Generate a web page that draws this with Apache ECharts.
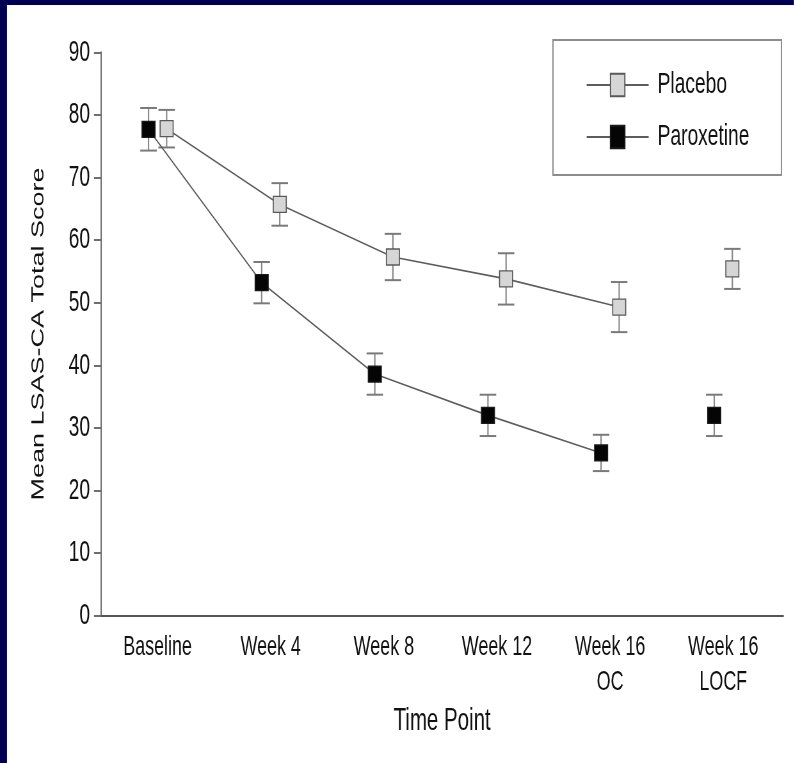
<!DOCTYPE html>
<html><head><meta charset="utf-8">
<script src="https://cdn.jsdelivr.net/npm/echarts@6/dist/echarts.min.js"></script>
<style>
html,body{margin:0;padding:0;background:#fff;overflow:hidden}
#wrap{position:relative;width:794px;height:763px;overflow:hidden;background:#fff}
#chart{position:absolute;left:0;top:0;height:763px;transform-origin:0 0}
</style></head><body>
<div id="wrap"><div id="chart"></div></div>
<script>
// ---- data ----
const categories = ['Baseline', 'Week 4', 'Week 8', 'Week 12', 'Week 16\nOC', 'Week 16\nLOCF'];
const placeboMean = [77.8, 65.7, 57.3, 53.8, 49.3, 55.4];
const placeboErr  = [3.0, 3.4, 3.7, 4.1, 4.0, 3.2];
const paroxetineMean = [77.7, 53.2, 38.6, 32.0, 26.0, 32.0];
const paroxetineErr  = [3.4, 3.3, 3.3, 3.3, 2.9, 3.3];
const yTicks = [0, 10, 20, 30, 40, 50, 60, 70, 80, 90];
const seriesNames = ['Placebo', 'Paroxetine'];

// ---- rendering ----
const S = 0.64;               // horizontal condensation of the original figure
const W = 794 / S;
const el = document.getElementById('chart');
el.style.width = W + 'px';
el.style.transform = 'scaleX(' + S + ')';
const FONT = '"Liberation Sans", Arial, sans-serif';
const OFF = 0.08;
const CAP = 16.5 / S;
const SYM = [13 / S, 16];
const LAST = categories.length - 1;

function errSeries(name, mean, err, off) {
  return {
    type: 'custom', name: name, z: 2, silent: true, animation: false,
    data: mean.map((m, i) => [i + off, m - err[i], m + err[i]]),
    renderItem: function (params, api) {
      const x = api.value(0);
      const lo = api.coord([x, api.value(1)]);
      const hi = api.coord([x, api.value(2)]);
      const hw = CAP / 2;
      return { type: 'group', children: [
        { type: 'line', shape: { x1: lo[0], y1: lo[1], x2: hi[0], y2: hi[1] }, style: { stroke: '#8a8a8a', lineWidth: 2.2 } },
        { type: 'line', shape: { x1: lo[0] - hw, y1: lo[1], x2: lo[0] + hw, y2: lo[1] }, style: { stroke: '#7a7a7a', lineWidth: 2 } },
        { type: 'line', shape: { x1: hi[0] - hw, y1: hi[1], x2: hi[0] + hw, y2: hi[1] }, style: { stroke: '#7a7a7a', lineWidth: 2 } }
      ]};
    }
  };
}

const styles = {
  Placebo:    { fill: '#d6d6d6', border: '#5a5a5a' },
  Paroxetine: { fill: '#050505', border: '#1a1a1a' }
};

function lineSeries(name, mean, off) {
  return {
    type: 'line', name: name, z: 3, animation: false,
    symbol: 'rect', symbolSize: SYM, showSymbol: true,
    data: mean.slice(0, LAST).map((m, i) => [i + off, m]),
    lineStyle: { color: '#5c5c5c', width: 1.6 },
    itemStyle: { color: styles[name].fill, borderColor: styles[name].border, borderWidth: 1.5 },
    emphasis: { disabled: true }
  };
}
function locfSeries(name, mean, off) {
  return {
    type: 'scatter', name: name + ' LOCF', z: 3, animation: false,
    symbol: 'rect', symbolSize: SYM,
    data: [[LAST + off, mean[LAST]]],
    itemStyle: { color: styles[name].fill, borderColor: styles[name].border, borderWidth: 1.5, opacity: 1 },
    emphasis: { disabled: true }
  };
}

const chart = echarts.init(el, null, { renderer: 'canvas' });
chart.setOption({
  backgroundColor: '#ffffff',
  animation: false,
  textStyle: { fontFamily: FONT },
  graphic: [
    { type: 'rect', left: 0, top: 0, z: 100, shape: { width: 7 / S, height: 763 }, style: { fill: '#000050' } },
    { type: 'rect', left: 0, top: 0, z: 100, shape: { width: W, height: 5 }, style: { fill: '#000050' } }
  ],
  grid: { left: 101 / S, right: W - 783 / S, top: 52.3, bottom: 763 - 615.7, containLabel: false },
  legend: {
    data: seriesNames, orient: 'vertical', left: 553 / S, top: 40,
    padding: [30, 32 / S, 23, 33 / S], itemGap: 22, itemWidth: 62 / S, itemHeight: 28,
    borderColor: '#8c8c8c', borderWidth: 2, selectedMode: false,
    textStyle: { fontSize: 30, fontFamily: FONT, color: '#111', lineHeight: 30, padding: [0, 0, 0, 9] }
  },
  xAxis: {
    type: 'value', min: -0.5, max: 5.53,
    name: 'Time Point', nameLocation: 'middle', nameGap: 89,
    nameTextStyle: { fontSize: 32, fontFamily: FONT, color: '#111' },
    axisLine: { onZero: false, lineStyle: { color: '#555', width: 2 } },
    axisTick: { show: false }, splitLine: { show: false },
    axisLabel: {
      customValues: categories.map((c, i) => i),
      formatter: v => categories[Math.round(v)],
      fontSize: 28, lineHeight: 35, margin: 14, color: '#111', fontFamily: FONT
    }
  },
  yAxis: {
    type: 'value', min: yTicks[0], max: yTicks[yTicks.length - 1], interval: yTicks[1] - yTicks[0],
    name: 'Mean LSAS-CA Total Score', nameLocation: 'middle', nameGap: 84,
    nameTextStyle: { fontSize: 27, fontFamily: FONT, color: '#111' },
    axisLine: { show: true, onZero: false, lineStyle: { color: '#6e6e6e', width: 2 } },
    axisTick: { show: true, length: 7 / S, lineStyle: { color: '#6e6e6e', width: 2 } },
    splitLine: { show: false },
    axisLabel: { fontSize: 30, margin: 11 / S, color: '#111', fontFamily: FONT }
  },
  series: [
    errSeries('Placebo SE', placeboMean, placeboErr, OFF),
    errSeries('Paroxetine SE', paroxetineMean, paroxetineErr, -OFF),
    lineSeries('Placebo', placeboMean, OFF),
    lineSeries('Paroxetine', paroxetineMean, -OFF),
    locfSeries('Placebo', placeboMean, OFF),
    locfSeries('Paroxetine', paroxetineMean, -OFF)
  ]
});
</script>
</body></html>
